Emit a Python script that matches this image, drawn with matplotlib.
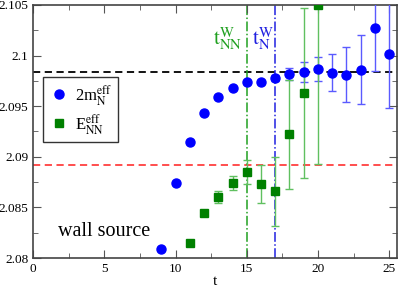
import matplotlib
matplotlib.use("Agg")
import matplotlib.pyplot as plt
from matplotlib.lines import Line2D
from matplotlib.ticker import MultipleLocator

plt.rcParams['font.family'] = ['Liberation Serif', 'DejaVu Serif']
plt.rcParams['mathtext.fontset'] = 'stix'

t_N = [9, 10, 11, 12, 13, 14, 15, 16, 17, 18, 19, 20, 21, 22, 23, 24, 25]
m_N = [2.0809, 2.0874, 2.0915, 2.0943, 2.0959, 2.0968, 2.0974, 2.0974, 2.0978,
       2.0982, 2.0984, 2.0987, 2.0983, 2.0981, 2.0986, 2.1027, 2.1001]
m_N_err = [0.00005, 0.00005, 0.00005, 0.00005, 0.00005, 0.0001, 0.0002, 0.0002, 0.0003,
           0.0006, 0.0010, 0.0012, 0.0018, 0.0027, 0.0034, 0.0042, 0.0053]

t_NN = [11, 12, 13, 14, 15, 16, 17, 18, 19, 20]
E_NN = [2.0815, 2.0844, 2.0860, 2.0874, 2.0885, 2.0873, 2.0866, 2.0922, 2.0963, 2.1050]
E_NN_err = [0.00005, 0.0001, 0.0006, 0.0007, 0.0012, 0.0019, 0.0034, 0.0054, 0.0084, 0.0157]

plateau_N = 2.0984
plateau_NN = 2.0892
tw_NN = 15
tw_N = 17

fig = plt.figure(figsize=(3.99, 2.87), dpi=100)
ax = fig.add_axes([0.083, 0.101, 0.912, 0.882])

ax.axhline(plateau_N, color='black', ls=(0, (4, 2.5)), lw=1.3, zorder=1)
ax.axhline(plateau_NN, color='#ff4040', ls=(0, (4, 2.5)), lw=1.3, zorder=1)
ax.axvline(tw_NN, color='#20a020', ls='-.', lw=1.1, zorder=1)
ax.axvline(tw_N, color='#2020e0', ls='-.', lw=1.1, zorder=1)

ax.errorbar(t_N, m_N, yerr=m_N_err, fmt='o', color='#0000ff', ms=6.5,
            ecolor='#5a5aff', elinewidth=1.0, capsize=3, capthick=1.0, zorder=3)
ax.errorbar(t_NN, E_NN, yerr=E_NN_err, fmt='s', color='#008000', ms=5.5,
            ecolor='#60c060', elinewidth=1.0, capsize=3, capthick=1.0, zorder=3)

ax.text(12.65, 2.1011, r'$\mathrm{t}_{\mathrm{NN}}^{\mathrm{W}}$', color='#20a020', fontsize=15)
ax.text(15.35, 2.1011, r'$\mathrm{t}_{\mathrm{N}}^{\mathrm{W}}$', color='#2020e0', fontsize=15)
ax.text(1.75, 2.0822, 'wall source', fontsize=14.5)

ax.set_xlim(0, 25.55)
ax.set_ylim(2.08, 2.105)
ax.xaxis.set_major_locator(MultipleLocator(5))
ax.xaxis.set_minor_locator(MultipleLocator(2.5))
ax.yaxis.set_minor_locator(MultipleLocator(0.0025))
ax.set_yticks([2.08, 2.085, 2.09, 2.095, 2.1, 2.105])
ax.set_yticklabels(['2.08', '2.085', '2.09', '2.095', '2.1', '2.105'])
ax.tick_params(which='both', direction='in', top=True, right=True, labelsize=9.5, color='#555555')
ax.tick_params(which='major', length=6)
ax.tick_params(which='minor', length=3.5)
for s in ax.spines.values():
    s.set_linewidth(1.2)
    s.set_color('#444444')
ax.set_xlabel('t', fontsize=11, labelpad=0)

handles = [Line2D([], [], marker='o', color='#0000ff', ls='none', ms=6.5),
           Line2D([], [], marker='s', color='#008000', ls='none', ms=5.5)]
labels = [r'2m$_{\mathrm{N}}^{\mathrm{eff}}$', r'E$_{\mathrm{NN}}^{\mathrm{eff}}$']
leg = ax.legend(handles, labels, loc='upper left', bbox_to_anchor=(0.027, 0.715),
                fontsize=12, frameon=True, fancybox=False, edgecolor='black',
                handletextpad=0.4, borderpad=0.35, labelspacing=0.25, handlelength=1.2,
                borderaxespad=0)
leg.get_frame().set_linewidth(1.0)

fig.savefig('out.png', dpi=100)
